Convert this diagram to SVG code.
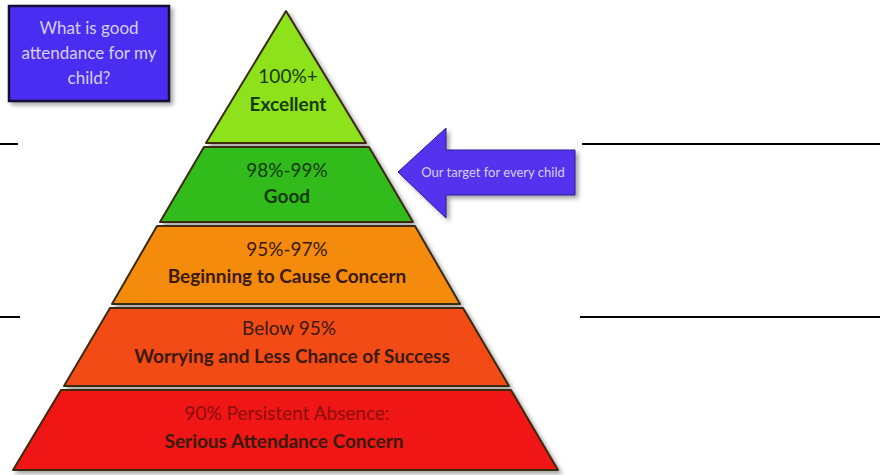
<svg xmlns="http://www.w3.org/2000/svg" width="880" height="475" viewBox="0 0 880 475">
<defs>
<filter id="sh" x="-10%" y="-10%" width="120%" height="130%">
<feDropShadow dx="3" dy="3" stdDeviation="2" flood-color="#000" flood-opacity="0.35"/>
</filter>
<style>
.tier{stroke:#3a2a10;stroke-width:2;stroke-linejoin:round;filter:url(#sh)}
.t{font-family:Lato,"Open Sans","Liberation Sans",sans-serif;font-size:19px;text-anchor:middle;fill:#3a1a0a}
.g{fill:#163a0a}
.b{font-weight:bold}
.lt{font-family:Lato,"Open Sans","Liberation Sans",sans-serif;text-anchor:middle;fill:#d6cff5}
.rule{stroke:#000;stroke-width:2}
</style>
</defs>
<rect width="880" height="475" fill="#fff"/>
<g id="rules">
<line class="rule" x1="0" y1="144" x2="18" y2="144"/>
<line class="rule" x1="582" y1="144" x2="880" y2="144"/>
<line class="rule" x1="0" y1="317" x2="20" y2="317"/>
<line class="rule" x1="580" y1="317" x2="880" y2="317"/>
</g>
<g id="question">
<rect x="9" y="6" width="160" height="95" fill="#4a2ef2" stroke="#151030" stroke-width="2.5" filter="url(#sh)"/>
<text class="lt" font-size="17" x="89" y="34">What is good</text>
<text class="lt" font-size="17" x="89" y="59">attendance for my</text>
<text class="lt" font-size="17" x="89" y="84">child?</text>
</g>
<g id="tier1">
<polygon class="tier" points="286,11 206,143 366,143" fill="#8ee21c"/>
<text class="t g" x="288" y="83">100%+</text>
<text class="t g b" x="288" y="111">Excellent</text>
</g>
<g id="tier2">
<polygon class="tier" points="204,147 369,147 413,222 160,222" fill="#30bc1e"/>
<text class="t g" x="287" y="177">98%-99%</text>
<text class="t g b" x="287" y="203">Good</text>
</g>
<g id="tier3">
<polygon class="tier" points="157,226 415,226 460,304 112,304" fill="#f58b10"/>
<text class="t" x="287" y="256">95%-97%</text>
<text class="t b" x="287" y="283">Beginning to Cause Concern</text>
</g>
<g id="tier4">
<polygon class="tier" points="110,308 463,308 509,386 64,386" fill="#f24c16"/>
<text class="t" x="289" y="335">Below 95%</text>
<text class="t b" x="292" y="363">Worrying and Less Chance of Success</text>
</g>
<g id="tier5">
<polygon class="tier" points="61,390 511,390 558,470 13,470" fill="#f01212"/>
<text class="t" x="287" y="420" style="fill:#8e0e0e">90% Persistent Absence:</text>
<text class="t b" x="284" y="448">Serious Attendance Concern</text>
</g>
<g id="target">
<polygon points="398,172 446,128 446,150 575,150 575,195 446,195 446,218" fill="#5533ee" stroke="#2a1a90" stroke-width="1" filter="url(#sh)"/>
<text class="lt" font-size="13" x="493" y="177">Our target for every child</text>
</g>
</svg>
